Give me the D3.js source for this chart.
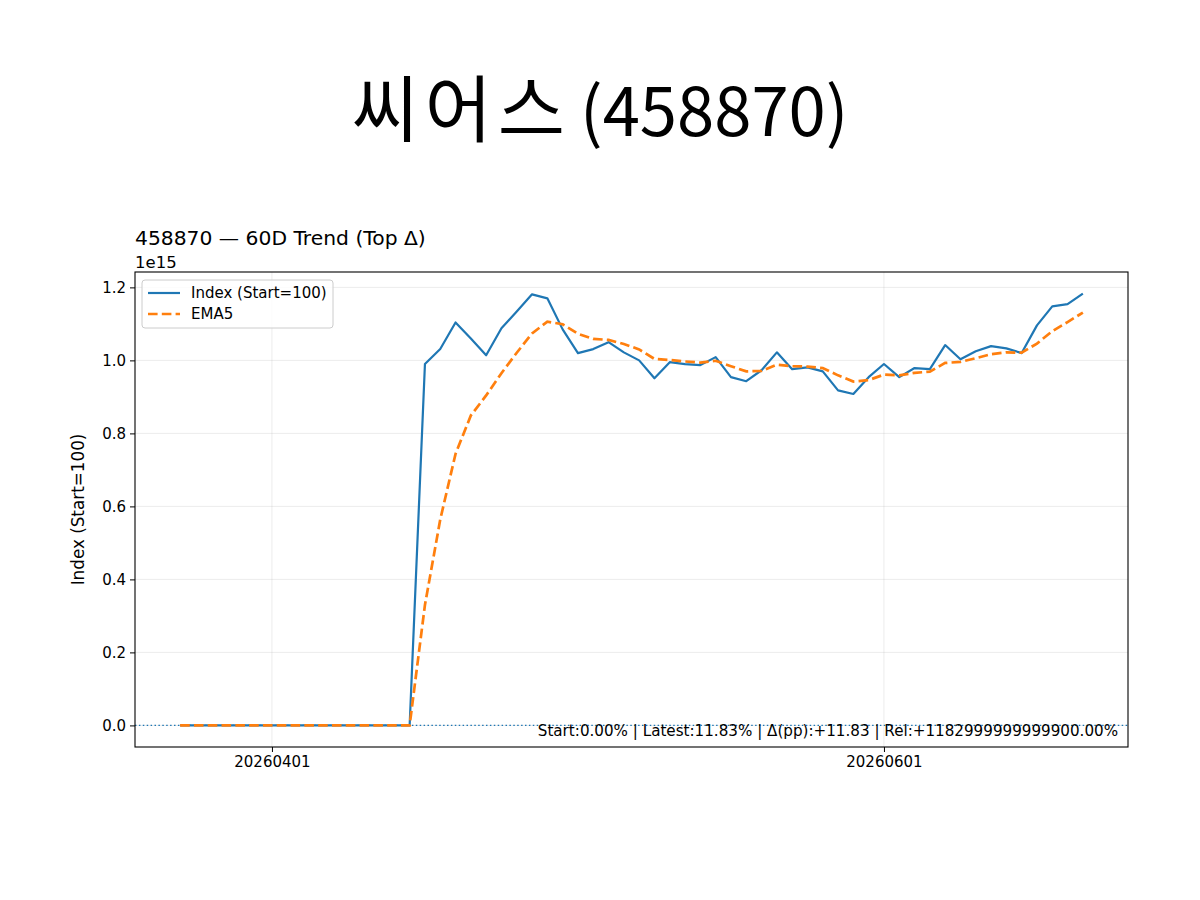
<!DOCTYPE html>
<html>
<head>
<meta charset="utf-8">
<script src="https://cdn.jsdelivr.net/npm/d3@7"></script>
<style>
  body { margin: 0; background: #fff; }
  svg text { font-family: "DejaVu Sans", sans-serif; fill: #000; }
</style>
</head>
<body>
<svg width="1200" height="900"></svg>
<script>
// trading days on the x axis
const dates = [
  "20260324","20260325","20260326","20260327","20260330","20260331",
  "20260401","20260402","20260403","20260406","20260407","20260408","20260409","20260410",
  "20260413","20260414","20260415","20260416","20260417","20260420","20260421","20260422",
  "20260423","20260424","20260427","20260428","20260429","20260430",
  "20260504","20260506","20260507","20260508","20260511","20260512","20260513","20260514",
  "20260515","20260518","20260519","20260520","20260521","20260522","20260526","20260527",
  "20260528","20260529",
  "20260601","20260602","20260604","20260605","20260608","20260609","20260610","20260611",
  "20260612","20260615","20260616","20260617","20260618","20260619"
];

// index values, in units of 1e15
const indexVals = [
  0,0,0,0,0,0,0,0,0,0,0,0,0,0,0,0,
  0.990,1.031,1.104,1.060,1.014,1.088,1.134,1.181,1.170,1.085,
  1.020,1.031,1.050,1.022,1.000,0.951,0.995,0.990,0.987,1.009,
  0.954,0.943,0.973,1.022,0.976,0.981,0.970,0.918,0.908,0.954,
  0.990,0.954,0.979,0.976,1.042,1.003,1.025,1.039,1.033,1.020,
  1.096,1.148,1.154,1.183
];

// EMA5
const emaVals = [
  0,0,0,0,0,0,0,0,0,0,0,0,0,0,0,0,
  0.330,0.564,0.744,0.849,0.904,0.965,1.021,1.074,1.106,1.099,
  1.073,1.059,1.056,1.045,1.030,1.004,1.001,0.997,0.994,0.999,
  0.984,0.970,0.971,0.988,0.984,0.983,0.979,0.959,0.942,0.946,
  0.961,0.959,0.966,0.969,0.993,0.996,1.006,1.017,1.022,1.021,
  1.046,1.080,1.105,1.131
];

const xTickDates = ["20260401", "20260601"];
const yTicks = [0, 0.2, 0.4, 0.6, 0.8, 1.0, 1.2];

const blue = '#1f77b4', orange = '#ff7f0e';
const plotL = 135, plotR = 1128, plotT = 272, plotB = 747;

const svg = d3.select('svg');

const x = d3.scaleLinear()
  .domain([-0.05 * (dates.length - 1), (dates.length - 1) * 1.05])
  .range([plotL, plotR]);
const yMax = d3.max(indexVals);
const y = d3.scaleLinear()
  .domain([-0.05 * yMax, yMax * 1.05])
  .range([plotB, plotT]);

// big title
const title = svg.append('text')
  .attr('x', 600).attr('y', 136)
  .attr('text-anchor', 'middle')
  .style('font-family', '"Noto Sans CJK KR", sans-serif')
  .style('font-size', '67px');
title.append('tspan').style('font-size', '73px').style('letter-spacing', '6px').text('씨어');
title.append('tspan').style('font-size', '73px').text('스');
title.append('tspan').text(' (458870)');

// grid
const xTickIdx = xTickDates.map(d => dates.indexOf(d));
svg.append('g').selectAll('line').data(xTickIdx).join('line')
  .attr('x1', d => x(d)).attr('x2', d => x(d))
  .attr('y1', plotT).attr('y2', plotB)
  .attr('stroke', '#b0b0b0').attr('stroke-opacity', 0.3).attr('stroke-width', 0.8);
svg.append('g').selectAll('line').data(yTicks).join('line')
  .attr('x1', plotL).attr('x2', plotR)
  .attr('y1', d => y(d)).attr('y2', d => y(d))
  .attr('stroke', '#b0b0b0').attr('stroke-opacity', 0.3).attr('stroke-width', 0.8);

// zero line
svg.append('line')
  .attr('x1', plotL).attr('x2', plotR)
  .attr('y1', y(0)).attr('y2', y(0))
  .attr('stroke', blue).attr('stroke-width', 1.4)
  .attr('stroke-dasharray', '1.5,2.4');

const line = d3.line()
  .x((d, i) => x(i))
  .y(d => y(d));

svg.append('path').datum(indexVals)
  .attr('d', line)
  .attr('fill', 'none')
  .attr('stroke', blue)
  .attr('stroke-width', 2.2)
  .attr('stroke-linejoin', 'round');

svg.append('path').datum(emaVals)
  .attr('d', line)
  .attr('fill', 'none')
  .attr('stroke', orange)
  .attr('stroke-width', 2.7)
  .attr('stroke-dasharray', '9.6,4.2');

// axes
const xAxis = d3.axisBottom(x)
  .tickValues(xTickIdx)
  .tickFormat(d => dates[d])
  .tickSizeOuter(0).tickSize(5).tickPadding(4);
const gx = svg.append('g').attr('transform', `translate(0,${plotB})`).call(xAxis);

const yAxis = d3.axisLeft(y)
  .tickValues(yTicks)
  .tickFormat(d3.format('.1f'))
  .tickSizeOuter(0).tickSize(5).tickPadding(4);
const gy = svg.append('g').attr('transform', `translate(${plotL},0)`).call(yAxis);

[gx, gy].forEach(g => {
  g.select('.domain').remove();
  g.selectAll('.tick line').attr('stroke', '#000').attr('stroke-width', 1);
  g.selectAll('.tick text').style('font-size', '15px').attr('fill', '#000');
});

// frame
svg.append('rect')
  .attr('x', plotL).attr('y', plotT)
  .attr('width', plotR - plotL).attr('height', plotB - plotT)
  .attr('fill', 'none').attr('stroke', '#000').attr('stroke-width', 1.1);

// axes title, offset text, y label
svg.append('text')
  .attr('x', plotL).attr('y', 245)
  .style('font-size', '20.3px')
  .text('458870 — 60D Trend (Top Δ)');
svg.append('text')
  .attr('x', plotL).attr('y', 268)
  .style('font-size', '16.5px')
  .text('1e15');
svg.append('text')
  .attr('transform', `translate(84,${(plotT + plotB) / 2}) rotate(-90)`)
  .attr('text-anchor', 'middle')
  .style('font-size', '16.8px')
  .text('Index (Start=100)');

// annotation
svg.append('text')
  .attr('x', plotL + 0.99 * (plotR - plotL))
  .attr('y', 736)
  .attr('text-anchor', 'end')
  .style('font-size', '15.15px')
  .text('Start:0.00% | Latest:11.83% | Δ(pp):+11.83 | Rel:+1182999999999900.00%');

// legend
const lg = svg.append('g').attr('transform', 'translate(142,280)');
lg.append('rect')
  .attr('width', 191).attr('height', 48).attr('rx', 3)
  .attr('fill', '#fff').attr('fill-opacity', 0.8)
  .attr('stroke', '#cccccc').attr('stroke-width', 1);
const legendItems = [
  { name: 'Index (Start=100)', color: blue, dash: null, w: 2.2 },
  { name: 'EMA5', color: orange, dash: '9.6,4.2', w: 2.7 }
];
legendItems.forEach((it, i) => {
  const yy = 13 + i * 21;
  lg.append('line')
    .attr('x1', 6).attr('x2', 38).attr('y1', yy).attr('y2', yy)
    .attr('stroke', it.color).attr('stroke-width', it.w)
    .attr('stroke-dasharray', it.dash);
  lg.append('text')
    .attr('x', 49).attr('y', yy + 5)
    .style('font-size', '15px')
    .text(it.name);
});
</script>
</body>
</html>
